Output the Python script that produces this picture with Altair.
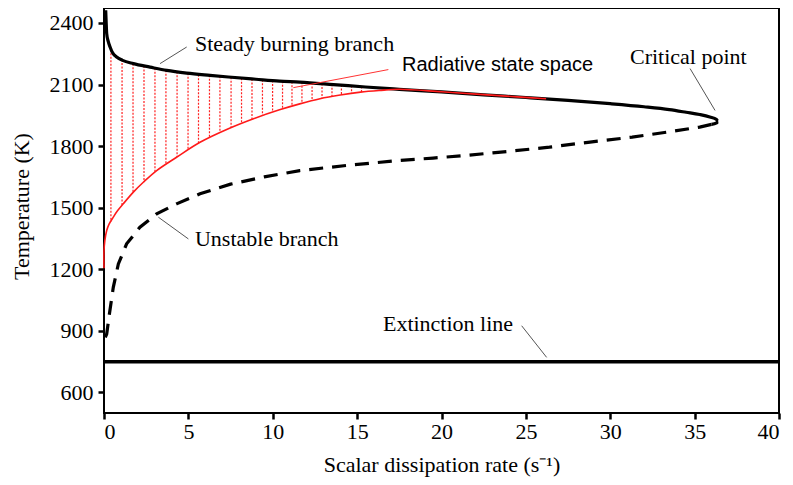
import altair as alt
import pandas as pd

# ---------------- data ----------------
steady_x = [0.1, 0.12, 0.16, 0.25, 0.36, 0.5, 0.75, 1.1, 1.74, 2.73, 3.72, 4.9, 6.28, 7.37,
            9.0, 10.4, 11.6, 13.6, 15.5, 17.5, 20.0, 22.5, 25.0, 27.5, 30.0, 32.0, 33.5,
            34.5, 35.3, 35.9, 36.3, 36.4, 36.3, 36.0]
steady_T = [2462, 2420, 2348, 2310, 2283, 2256, 2234, 2218, 2202, 2185, 2169, 2156, 2145, 2137,
            2126, 2117, 2112, 2100, 2088, 2077, 2064, 2050, 2037, 2023, 2007, 1992, 1978,
            1965, 1954, 1942, 1930, 1922, 1913, 1906]

unstable_x = [36.0, 35.3, 33.5, 31.3, 28.8, 26.4, 24.0, 21.5, 19.5, 17.5, 14.5, 11.6, 9.5,
              7.5, 5.69, 4.3, 3.12, 2.13, 1.34, 0.85, 0.55, 0.32, 0.16, 0.03]
unstable_T = [1906, 1893, 1870, 1844, 1820, 1795, 1775, 1755, 1742, 1730, 1707, 1681, 1650,
              1615, 1568, 1519, 1470, 1405, 1324, 1226, 1112, 982, 885, 860]

radiative_x = [0.0, 0.0, 0.05, 0.16, 0.3, 0.55, 0.8, 1.14, 1.74, 2.33, 3.12, 4.3, 5.69, 7.37,
               8.9, 10.4, 11.6, 12.8, 14.0, 15.2, 16.3, 17.5, 20.0, 22.5, 24.5, 26.2]
radiative_T = [1205, 1290, 1340, 1389, 1420, 1454, 1485, 1519, 1576, 1624, 1681, 1746, 1819,
               1885, 1935, 1977, 2006, 2031, 2049, 2063, 2071, 2077, 2065, 2051, 2040, 2031]

hatch_x = [0.41, 1.07, 1.72, 2.37, 3.02, 3.67, 4.33, 4.98, 5.60, 6.25, 6.87, 7.53, 8.15,
           8.77, 9.39, 9.99, 10.58, 11.14, 11.73, 12.33, 12.92, 13.51, 14.07, 14.67, 15.26]
hatch_top = [2270, 2222, 2202, 2191, 2180, 2170, 2162, 2155, 2148, 2145, 2141, 2136, 2131,
             2127, 2124, 2120, 2116, 2114, 2111, 2108, 2105, 2101, 2098, 2094, 2091]
hatch_bottom = [1432, 1512, 1575, 1627, 1674, 1712, 1747, 1785, 1815, 1843, 1866, 1891, 1912,
                1932, 1950, 1966, 1981, 1995, 2008, 2020, 2033, 2043, 2050, 2057, 2063]

extinction_T = [750]
extinction_x = [0]
extinction_x2 = [40]

x_ticks = [0, 5, 10, 15, 20, 25, 30, 35, 40]
y_ticks = [600, 900, 1200, 1500, 1800, 2100, 2400]

ann_text = ["Steady burning branch", "Unstable branch", "Critical point", "Extinction line"]
ann_x = [5.39, 5.39, 31.17, 16.53]
ann_T = [2296, 1350, 2233, 935]

lead_x = [3.32, 3.22, 34.73, 24.75]
lead_T = [2202, 1454, 2178, 925]
lead_x2 = [4.90, 5.0, 36.21, 26.23]
lead_T2 = [2283, 1348, 1974, 771]

rad_label = ["Radiative state space"]
rad_label_x = [17.66]
rad_label_T = [2194]
rad_lead_x = [11.22]
rad_lead_T = [2085]
rad_lead_x2 = [16.85]
rad_lead_T2 = [2173]

# ---------------- frames ----------------
steady_df = pd.DataFrame({"x": steady_x, "T": steady_T, "i": range(len(steady_x))})
unstable_df = pd.DataFrame({"x": unstable_x, "T": unstable_T, "i": range(len(unstable_x))})
rad_df = pd.DataFrame({"x": radiative_x, "T": radiative_T, "i": range(len(radiative_x))})
hatch_df = pd.DataFrame({"x": hatch_x, "T": hatch_top, "bottom": hatch_bottom})
ext_df = pd.DataFrame({"x": extinction_x, "x2": extinction_x2, "T": extinction_T})
ann_df = pd.DataFrame({"x": ann_x, "T": ann_T, "text": ann_text})
lead_df = pd.DataFrame({"x": lead_x, "T": lead_T, "x2": lead_x2, "T2": lead_T2})
rad_lab_df = pd.DataFrame({"x": rad_label_x, "T": rad_label_T, "text": rad_label})
rad_lead_df = pd.DataFrame({"x": rad_lead_x, "T": rad_lead_T, "x2": rad_lead_x2, "T2": rad_lead_T2})

SERIF = "Liberation Serif"
xscale = alt.Scale(domain=[0, 40], nice=False, zero=False)
yscale = alt.Scale(domain=[500, 2473], nice=False, zero=False)

x_axis = alt.Axis(values=x_ticks, grid=False, domain=False, ticks=True, tickSize=6,
                  tickWidth=2.5, tickColor="black", labelFont=SERIF, labelFontSize=22,
                  labelColor="black", labelPadding=2, format="d",
                  title="Scalar dissipation rate (s⁻¹)", titleFont=SERIF, titleFontSize=22,
                  titleFontWeight="normal", titleColor="black", titleX=337.5, titleY=51,
                  titleBaseline="middle", titleAlign="center")
y_axis = alt.Axis(values=y_ticks, grid=False, domain=False, ticks=True, tickSize=6,
                  tickWidth=2.5, tickColor="black", labelFont=SERIF, labelFontSize=22,
                  labelColor="black", labelPadding=5, format="d",
                  title="Temperature (K)", titleFont=SERIF, titleFontSize=22,
                  titleFontWeight="normal", titleColor="black", titleX=-83, titleY=198,
                  titleAngle=270, titleBaseline="middle", titleAlign="center")

X = alt.X("x:Q", scale=xscale, axis=x_axis)
Y = alt.Y("T:Q", scale=yscale, axis=y_axis)

hatch = alt.Chart(hatch_df).mark_rule(color="#ff2020", strokeWidth=1.2, strokeDash=[2, 1.5]).encode(
    x=X, y=Y, y2="bottom:Q",
)

extinction = alt.Chart(ext_df).mark_rule(color="black", strokeWidth=3.5).encode(
    x=X, x2="x2:Q", y=Y,
)

steady = alt.Chart(steady_df).mark_line(color="black", strokeWidth=3.2, interpolate="monotone").encode(
    x=X, y=Y, order="i:Q",
)

unstable = alt.Chart(unstable_df).mark_line(color="black", strokeWidth=3.2,
                                             strokeDash=[14, 9]).encode(
    x=X, y=Y, order="i:Q",
)

radiative = alt.Chart(rad_df).mark_line(color="#ff1a1a", strokeWidth=1.6,
                                        interpolate="catmull-rom").encode(
    x=X, y=Y, order="i:Q",
)

leaders = alt.Chart(lead_df).mark_rule(color="#555555", strokeWidth=1).encode(
    x=X, x2="x2:Q", y=Y, y2="T2:Q",
)

rad_leader = alt.Chart(rad_lead_df).mark_rule(color="#ff3333", strokeWidth=1).encode(
    x=X, x2="x2:Q", y=Y, y2="T2:Q",
)

labels = alt.Chart(ann_df).mark_text(font=SERIF, fontSize=22, align="left",
                                     baseline="middle", color="black").encode(
    x=X, y=Y, text="text:N",
)

rad_text = alt.Chart(rad_lab_df).mark_text(font="Liberation Sans", fontSize=20, align="left",
                                           baseline="middle", color="black").encode(
    x=X, y=Y, text="text:N",
)

chart = alt.layer(
    hatch, extinction, steady, unstable, radiative, leaders, rad_leader, labels, rad_text
).properties(
    width=675, height=405,
    autosize=alt.AutoSizeParams(type="none"),
    padding={"left": 96, "top": 0, "right": 6, "bottom": 64},
    background="white",
).configure_view(
    stroke="black", strokeWidth=2,
)

chart.save("out.html", embed_options={"renderer": "svg", "actions": False})
